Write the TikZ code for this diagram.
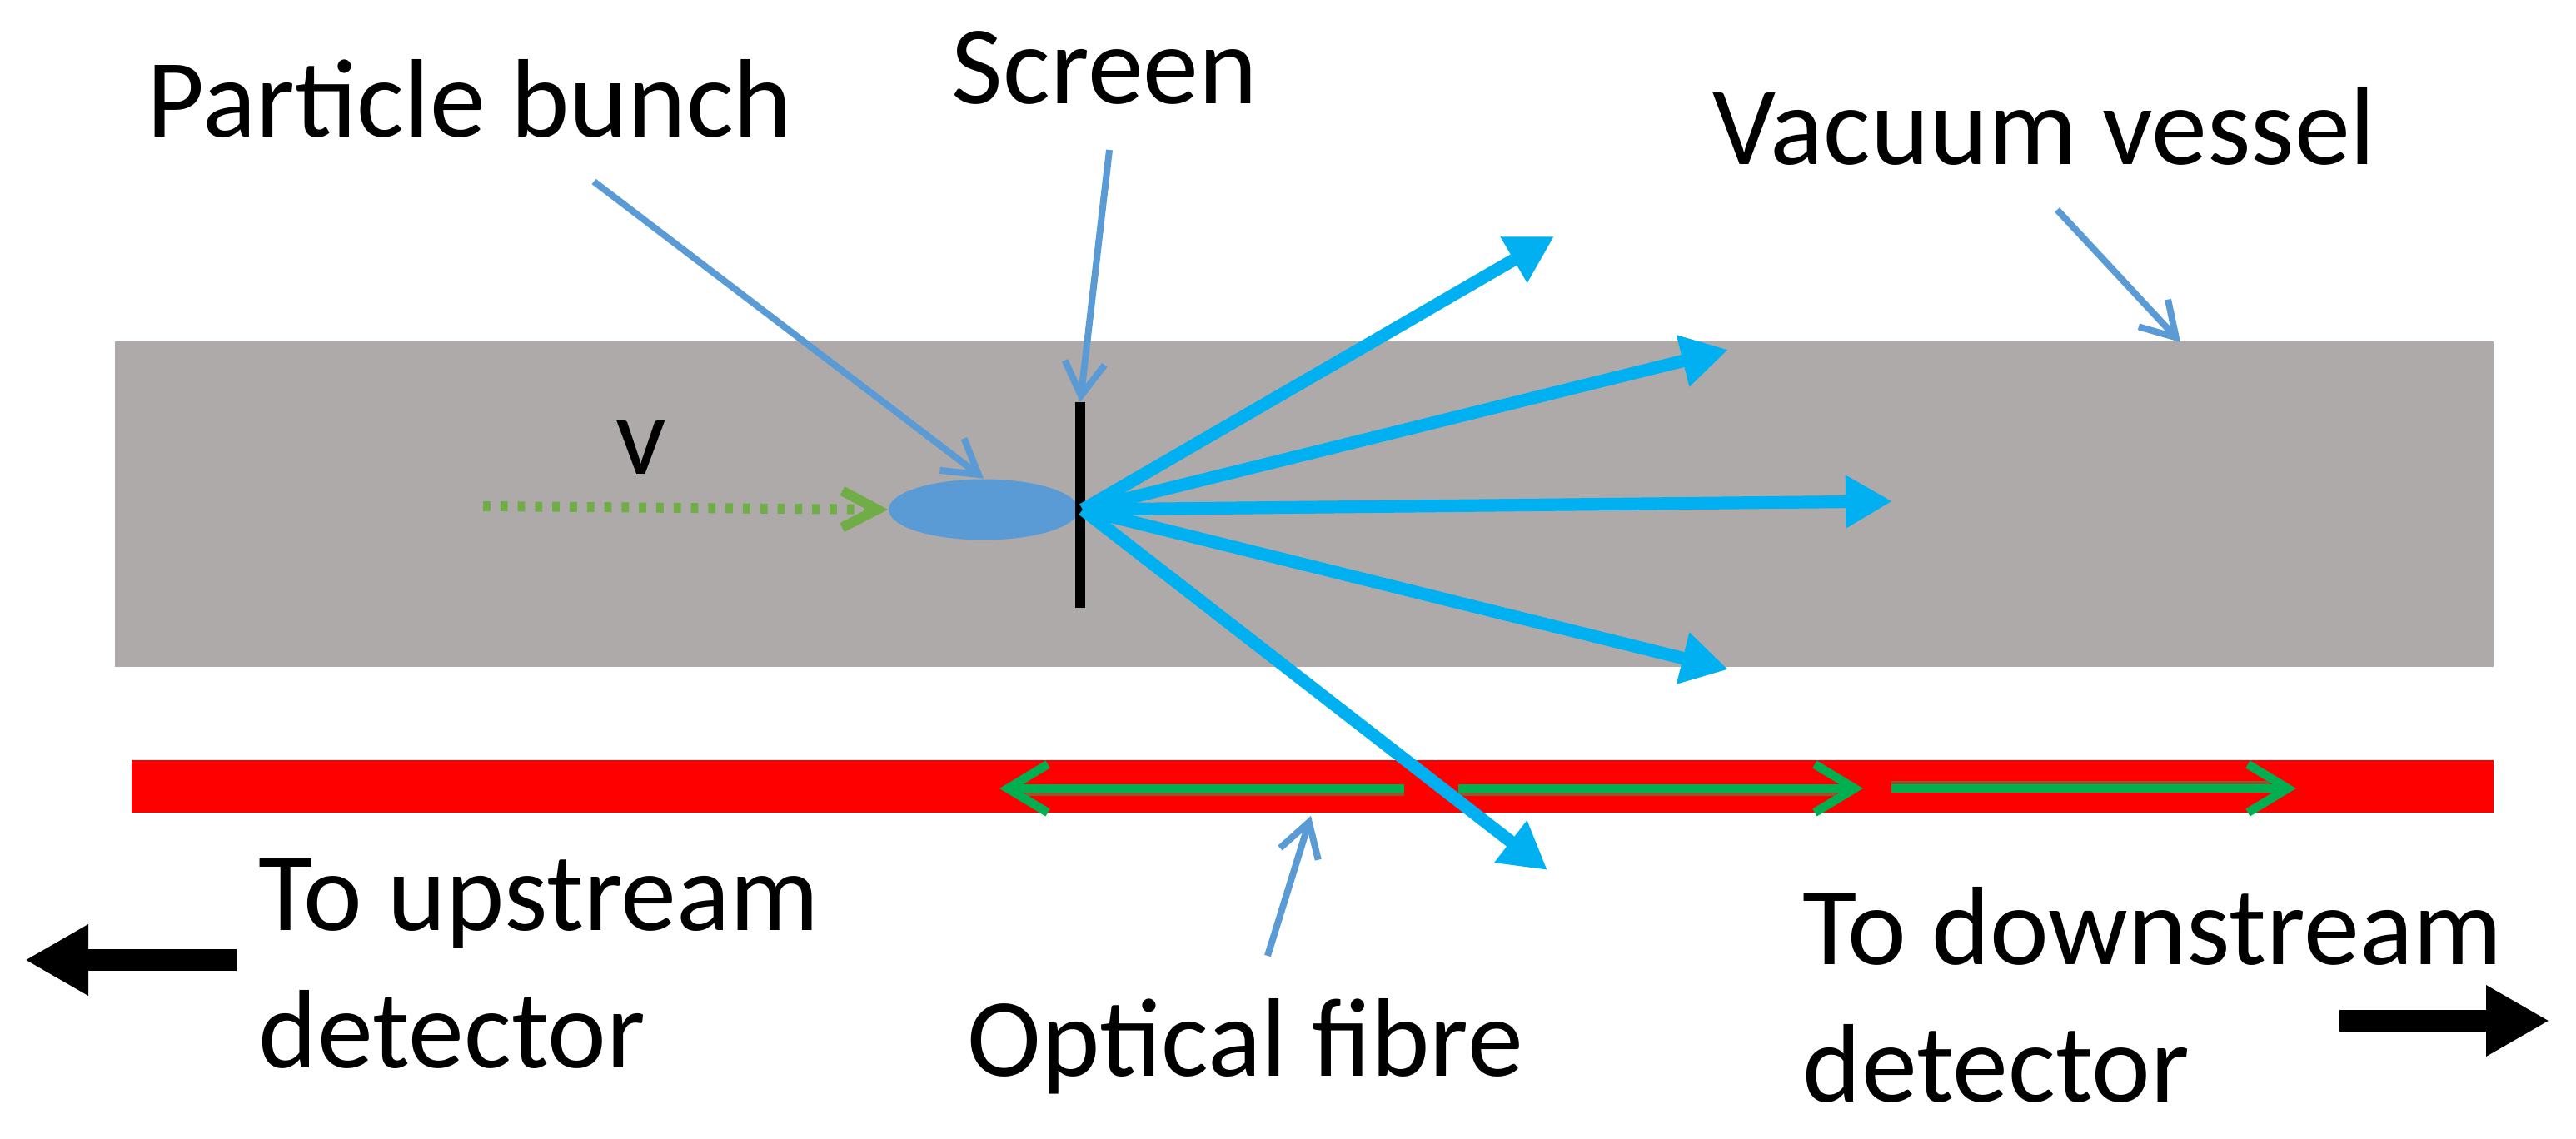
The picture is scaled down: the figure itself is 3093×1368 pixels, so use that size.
\documentclass[tikz,border=0pt]{standalone}
\usepackage{fontspec}
\setmainfont{Carlito}
\usetikzlibrary{arrows.meta,shapes.geometric}
\definecolor{vessel}{HTML}{AEAAAA}
\definecolor{callout}{HTML}{5B9BD5}
\definecolor{light}{HTML}{00B0F0}
\definecolor{fibregreen}{HTML}{00B050}
\definecolor{speedgreen}{HTML}{70AD47}
\definecolor{shade}{HTML}{8C5A2E}
\tikzset{
  lbl/.style={inner sep=0pt, font=\fontsize{33.5}{41.25}\selectfont},
  leader/.style={draw=callout, line width=2pt, -{Straight Barb[length=10pt,width=12pt]}},
  ray/.style={draw=light, line width=3.8pt, -{Triangle[length=14pt,width=15pt]}},
  guide/.style={draw=fibregreen, line width=2.6pt, -{Straight Barb[length=12pt,width=14.5pt]}},
  guideshade/.style={draw=shade, line width=1pt},
  bigarrow/.style={line width=6.5pt, -{Triangle[length=19pt,width=20pt]}}
}
\begin{document}
\begin{tikzpicture}[x=0.25pt,y=-0.25pt]
  \useasboundingbox (0,0) rectangle (3093,1368);
  \fill [vessel] (138,410) rectangle (2994,801);
  \fill [red] (158,913) rectangle (2994,976);
  \node [lbl, anchor=base] (v) at (770,570) {v};
  \node [ellipse, fill=callout, inner sep=0pt, minimum width=57pt, minimum height=18.25pt] (bunch) at (1181,612) {};
  \coordinate (vstart) at (580,608);
  \draw [speedgreen, line width=3pt, dash pattern=on 2.2pt off 3pt, -{Straight Barb[length=10.5pt,width=11pt]}] (vstart) -- (bunch.west);
  \coordinate (scrtop) at (1297,483);
  \coordinate (scrbot) at (1297,730);
  \coordinate (hit) at (1300,612);
  \draw [line width=2.8pt] (scrtop) -- (scrbot);
  \coordinate (fibAend) at (1686,947);
  \coordinate (fibAtip) at (1200,947);
  \coordinate (fibBend) at (1751,947);
  \coordinate (fibBtip) at (2237,947);
  \coordinate (fibCend) at (2271,947);
  \coordinate (fibCtip) at (2757,947);
  \draw [guideshade] ([yshift=-1.7pt]fibAend) -- ([xshift=8pt,yshift=-1.7pt]fibAtip);
  \draw [guideshade] ([yshift=-1.7pt]fibBend) -- ([xshift=-8pt,yshift=-1.7pt]fibBtip);
  \draw [guideshade] ([yshift=1.7pt]fibCend) -- ([xshift=-8pt,yshift=1.7pt]fibCtip);
  \draw [guide] (fibAend) -- (fibAtip);
  \draw [guide] (fibBend) -- (fibBtip);
  \draw [guide] (fibCend) -- (fibCtip);
  \coordinate (r1) at (1866,284);
  \coordinate (r2) at (2075,420);
  \coordinate (r3) at (2272,602);
  \coordinate (r4) at (2075,804);
  \coordinate (r5) at (1858,1045);
  \foreach \i in {1,...,5}
    \draw [ray] (hit) -- (r\i);
  \node [lbl, anchor=base west] (bunchlbl) at (176,165) {Particle bunch};
  \node [lbl, anchor=base west] (screenlbl) at (1142,125) {Screen};
  \node [lbl, anchor=base west] (vessellbl) at (2056,198) {Vacuum vessel};
  \node [lbl, anchor=base west] (fibrelbl) at (1161,1292) {Optical fibre};
  \node [lbl, anchor=base west, align=left] (uplbl) at (310,1282) {To upstream\\detector};
  \node [lbl, anchor=base west, align=left] (downlbl) at (2164,1323) {To downstream\\detector};
  \coordinate (bunchfoot) at (713,218);
  \coordinate (screenfoot) at (1332,180);
  \coordinate (vesselfoot) at (2470,252);
  \coordinate (vesselhit) at (2618,411);
  \coordinate (fibrefoot) at (1522,1148);
  \coordinate (fibrehit) at (1574,980);
  \draw [leader] (bunchfoot) -- (bunch.north);
  \draw [leader] (screenfoot) -- (scrtop);
  \draw [leader] (vesselfoot) -- (vesselhit);
  \draw [leader] (fibrefoot) -- (fibrehit);
  \coordinate (upstart) at (284,1153);
  \coordinate (upend) at (30,1153);
  \coordinate (downstart) at (2809,1226);
  \coordinate (downend) at (3061,1226);
  \draw [bigarrow] (upstart) -- (upend);
  \draw [bigarrow] (downstart) -- (downend);
\end{tikzpicture}
\end{document}
